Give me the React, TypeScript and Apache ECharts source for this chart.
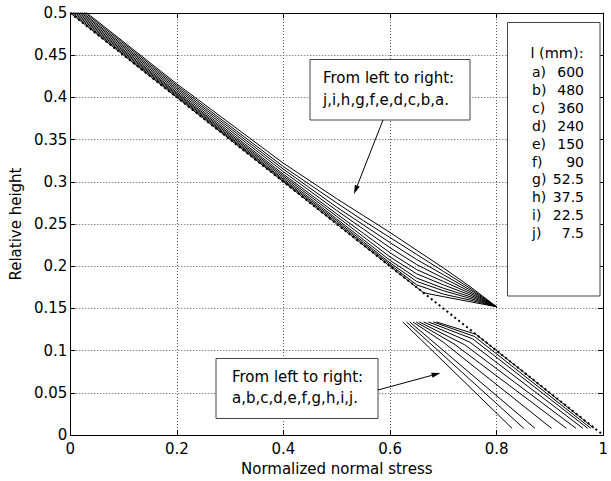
import { useEffect, useRef } from 'react';
import * as echarts from 'echarts';

const FONT = '"DejaVu Sans", sans-serif';

// Curve labels and their lengths l (mm)
const curveLetters = ['a', 'b', 'c', 'd', 'e', 'f', 'g', 'h', 'i', 'j'];
const lengthsMm = ['600', '480', '360', '240', '150', '90', '52.5', '37.5', '22.5', '7.5'];

// Upper branch of each curve: [normalized stress, relative height]
const upperCurves: number[][][] = [
  [[0, 0.5155], [0.2, 0.416], [0.4, 0.322], [0.5, 0.28], [0.55, 0.26], [0.6, 0.24], [0.65, 0.219], [0.7, 0.198], [0.75, 0.176], [0.8, 0.152]],
  [[0, 0.514], [0.2, 0.414], [0.4, 0.318], [0.5, 0.275], [0.55, 0.254], [0.6, 0.234], [0.65, 0.214], [0.7, 0.194], [0.75, 0.174], [0.8, 0.152]],
  [[0, 0.512], [0.2, 0.412], [0.4, 0.315], [0.5, 0.27], [0.55, 0.249], [0.6, 0.228], [0.65, 0.208], [0.7, 0.19], [0.75, 0.172], [0.8, 0.152]],
  [[0, 0.5105], [0.2, 0.41], [0.4, 0.312], [0.5, 0.266], [0.55, 0.244], [0.6, 0.222], [0.65, 0.202], [0.7, 0.186], [0.75, 0.17], [0.8, 0.152]],
  [[0, 0.5087], [0.2, 0.408], [0.4, 0.309], [0.5, 0.262], [0.55, 0.239], [0.6, 0.216], [0.65, 0.196], [0.7, 0.182], [0.75, 0.168], [0.8, 0.152]],
  [[0, 0.507], [0.2, 0.406], [0.4, 0.307], [0.5, 0.259], [0.55, 0.235], [0.6, 0.211], [0.65, 0.191], [0.7, 0.178], [0.75, 0.166], [0.8, 0.152]],
  [[0, 0.5052], [0.2, 0.4045], [0.4, 0.305], [0.5, 0.256], [0.55, 0.2315], [0.6, 0.207], [0.65, 0.186], [0.7, 0.174], [0.75, 0.164], [0.8, 0.152]],
  [[0, 0.5035], [0.2, 0.403], [0.4, 0.303], [0.5, 0.254], [0.55, 0.229], [0.6, 0.204], [0.65, 0.182], [0.7, 0.171], [0.75, 0.162], [0.8, 0.152]],
  [[0, 0.5017], [0.2, 0.4015], [0.4, 0.3015], [0.5, 0.252], [0.55, 0.227], [0.6, 0.202], [0.65, 0.178], [0.7, 0.167], [0.75, 0.16], [0.8, 0.152]],
  [[0, 0.5], [0.2, 0.4], [0.4, 0.3], [0.5, 0.25], [0.55, 0.225], [0.6, 0.2], [0.65, 0.175], [0.663, 0.1685], [0.7, 0.164], [0.75, 0.158], [0.8, 0.152]],
];

// Lower branch of each curve
const lowerCurves: number[][][] = [
  [[0.624, 0.134], [0.829, 0.008]],
  [[0.631, 0.134], [0.851, 0.008]],
  [[0.637, 0.134], [0.872, 0.008]],
  [[0.643, 0.134], [0.7, 0.11], [0.903, 0.008]],
  [[0.649, 0.134], [0.72, 0.108], [0.931, 0.008]],
  [[0.655, 0.134], [0.74, 0.107], [0.949, 0.008]],
  [[0.663, 0.134], [0.75, 0.11], [0.962, 0.008]],
  [[0.672, 0.134], [0.755, 0.114], [0.971, 0.008]],
  [[0.681, 0.134], [0.758, 0.117], [0.977, 0.008]],
  [[0.687, 0.134], [0.761, 0.1195], [0.983, 0.008]],
];

// Limit line (dotted)
const limitLine: number[][] = [[0, 0.5], [1, 0]];

function arrow(x1: number, y1: number, x2: number, y2: number) {
  const head = 9;
  const half = 2.6;
  const dx = x2 - x1;
  const dy = y2 - y1;
  const len = Math.hypot(dx, dy);
  const ux = dx / len;
  const uy = dy / len;
  const bx = x2 - ux * head;
  const by = y2 - uy * head;
  return [
    { type: 'line', shape: { x1, y1, x2: bx, y2: by }, style: { stroke: '#000', lineWidth: 1 } },
    {
      type: 'polygon',
      shape: { points: [[x2, y2], [bx - uy * half, by + ux * half], [bx + uy * half, by - ux * half]] },
      style: { fill: '#000' },
    },
  ];
}

function label(text: string, x: number, y: number, align = 'left', size = 15) {
  return {
    type: 'text',
    x,
    y,
    style: { text, fill: '#000', fontSize: size, fontFamily: FONT, align, verticalAlign: 'middle' },
  };
}

export default function App() {
  const ref = useRef<HTMLDivElement>(null);

  useEffect(() => {
    if (!ref.current) return;
    const chart = echarts.init(ref.current, undefined, { renderer: 'svg' });

    const lineStyle = { color: '#000', width: 1 };
    const curveSeries = [
      ...upperCurves.map((pts, k) => ({
        type: 'line',
        name: `${curveLetters[k]} upper`,
        data: pts,
        symbol: 'none',
        silent: true,
        lineStyle,
        z: 3,
      })),
      ...lowerCurves.map((pts, k) => ({
        type: 'line',
        name: `${curveLetters[k]} lower`,
        data: pts,
        symbol: 'none',
        silent: true,
        lineStyle,
        z: 3,
      })),
    ];

    const axisLine = { show: true, onZero: false, lineStyle: { color: '#000', width: 1 } };
    const tick = { show: true, inside: true, length: 5, lineStyle: { color: '#000', width: 1 } };
    const grid = { show: true, lineStyle: { color: '#555', width: 1, type: [1, 2] } };
    const tickText = { color: '#000', fontSize: 15, fontFamily: FONT };

    const legendRows = curveLetters.flatMap((letter, k) => [
      label(`${letter})`, 532, 71.7 + 17.96 * k, 'left', 14),
      label(lengthsMm[k], 584, 71.7 + 17.96 * k, 'right', 14),
    ]);

    chart.setOption({
      animation: false,
      backgroundColor: '#fff',
      grid: { left: 68, right: 2, top: 13, bottom: 43 },
      xAxis: [
        {
          type: 'value',
          min: 0,
          max: 1,
          interval: 0.2,
          position: 'bottom',
          name: 'Normalized normal stress',
          nameLocation: 'middle',
          nameGap: 25,
          nameTextStyle: { color: '#000', fontSize: 15, fontFamily: FONT },
          axisLine,
          axisTick: tick,
          axisLabel: { ...tickText, margin: 6 },
          splitLine: grid,
        },
        {
          type: 'value',
          min: 0,
          max: 1,
          interval: 0.2,
          position: 'top',
          axisLine,
          axisTick: tick,
          axisLabel: { show: false },
          splitLine: { show: false },
        },
      ],
      yAxis: [
        {
          type: 'value',
          min: 0,
          max: 0.5,
          interval: 0.05,
          position: 'left',
          name: 'Relative height',
          nameLocation: 'middle',
          nameGap: 42,
          nameTextStyle: { color: '#000', fontSize: 15, fontFamily: FONT },
          axisLine,
          axisTick: tick,
          axisLabel: { ...tickText, margin: 3 },
          splitLine: grid,
        },
        {
          type: 'value',
          min: 0,
          max: 0.5,
          interval: 0.05,
          position: 'right',
          axisLine,
          axisTick: tick,
          axisLabel: { show: false },
          splitLine: { show: false },
        },
      ],
      series: [
        {
          type: 'line',
          name: 'limit',
          data: limitLine,
          symbol: 'none',
          silent: true,
          lineStyle: { color: '#000', width: 2, type: [2, 3] },
          z: 2,
        },
        ...curveSeries,
      ],
      graphic: [
        // Upper-branch annotation
        {
          type: 'rect',
          shape: { x: 310, y: 59.5, width: 160, height: 60.5 },
          style: { fill: '#fff', stroke: '#444', lineWidth: 1 },
          z: 10,
        },
        { ...label('From left to right:', 323, 78.3), z: 11 },
        { ...label('j,i,h,g,f,e,d,c,b,a.', 323, 100), z: 11 },
        ...arrow(383, 120, 354, 194).map((e) => ({ ...e, z: 11 })),
        // Lower-branch annotation
        {
          type: 'rect',
          shape: { x: 216, y: 358.5, width: 162, height: 60 },
          style: { fill: '#fff', stroke: '#444', lineWidth: 1 },
          z: 10,
        },
        { ...label('From left to right:', 232, 376.7), z: 11 },
        { ...label('a,b,c,d,e,f,g,h,i,j.', 232, 397.7), z: 11 },
        ...arrow(378, 390, 440.5, 373).map((e) => ({ ...e, z: 11 })),
        // Length key
        {
          type: 'rect',
          shape: { x: 507.5, y: 22.5, width: 92.5, height: 273.5 },
          style: { fill: '#fff', stroke: '#444', lineWidth: 1 },
          z: 10,
        },
        { ...label('l (mm):', 557, 53.3, 'center', 14.5), z: 11 },
        ...legendRows.map((e) => ({ ...e, z: 11 })),
      ],
    });

    return () => chart.dispose();
  }, []);

  return (
    <div
      ref={ref}
      style={{ position: 'fixed', left: 0, top: 0, width: 611, height: 481, background: '#fff' }}
    />
  );
}
